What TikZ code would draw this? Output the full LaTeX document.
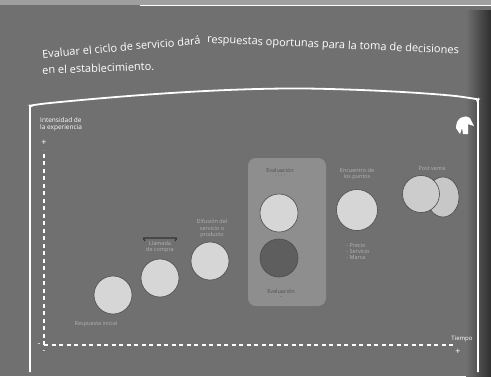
\documentclass[tikz,border=0pt]{standalone}
\usepackage{fontspec}
\setmainfont{Open Sans}
\usetikzlibrary{shapes.geometric}
\definecolor{bg}{HTML}{707070}
\definecolor{bgdark}{HTML}{2E2E2E}
\definecolor{light}{HTML}{D6D6D6}
\definecolor{darkc}{HTML}{5E5E5E}
\definecolor{boxc}{HTML}{8E8E8E}
\definecolor{lab}{HTML}{B4B4B4}
\definecolor{labdark}{HTML}{505050}
\tikzset{
  stage/.style={circle,draw=black!70,line width=0.6pt,fill=light,minimum size=38pt,inner sep=0pt},
  lbl/.style={font=\fontsize{5.5}{6.3}\selectfont,text=lab,align=center,inner sep=1pt},
  axisdash/.style={draw=white!90,line width=2pt,dash pattern=on 4pt off 3.5pt},
  frameline/.style={draw=white!85,line width=1.8pt,rounded corners=8pt},
  titletext/.style={anchor=west,text=white!92,font=\fontsize{11}{13}\selectfont,inner sep=0}
}
\begin{document}
\begin{tikzpicture}[x=1pt,y=-1pt]
\useasboundingbox (0,0) rectangle (491,376);
% background
\fill[bg] (0,0) rectangle (491,376);
\fill[gray!75] (0,0) rectangle (491,5);
\draw[white!80,line width=1pt] (140,5) -- (491,5);
\shade[left color=bg,right color=bgdark] (466,10) rectangle (491,376);
% title
\node[titletext,rotate=5] (t1) at (42,54) {Evaluar el ciclo de servicio dará};
\node[titletext,rotate=-2.5] (t1b) at (207,40) {respuestas oportunas para la toma de decisiones};
\node[titletext,rotate=2] (t2) at (42,70) {en el establecimiento.};
% frame
\draw[frameline] (30,372) -- (30,114) .. controls (30,107) and (34,105) .. (40,104)
  .. controls (150,93) and (250,87) .. (330,89) .. controls (400,91) and (450,95) .. (470,98)
  .. controls (476,99) and (478,103) .. (478,109) -- (478,372);
% icon
\fill[white!90] (456,128) .. controls (456,118) and (464,114) .. (470,118)
  -- (474,126) -- (468,124) -- (468,134) -- (463,134) -- (462,128) -- (460,134) -- cycle;
% axes
\node[anchor=north west,text=white!80,align=left,font=\fontsize{6.5}{7.5}\selectfont,inner sep=0] (ylab) at (40,117)
  {Intensidad de\\la experiencia};
\node[text=white!85,font=\small,inner sep=0] (yplus) at (44,143) {+};
\node[text=white!85,font=\small,inner sep=0] (yminus) at (39,345) {-};
\coordinate (o) at (44,345);
\coordinate (ytop) at (44,150);
\coordinate (xend) at (455,345);
\draw[axisdash] (o) -- (ytop);
\draw[axisdash] (o) -- (xend);
\node[text=white!75,font=\fontsize{6}{7}\selectfont,inner sep=0] (xlab) at (462,339) {Tiempo};
\node[text=white!85,font=\small,inner sep=0] (xplus) at (458,352) {+};
\node[text=white!70,font=\small,inner sep=0] (xminus) at (44,352) {-};
% stages
\node[stage] (s1) at (113,295) {};
\node[lbl,anchor=north] (l1) at (96,320) {Respuesta inicial};
\node[stage] (s2) at (160,278) {};
\draw[black!80,line width=1.2pt,rounded corners=1pt] (145,241) -- (143,238) -- (177,238) -- (175,241);
\node[lbl,anchor=north] (l2) at (160,240) {Llamada\\de compra};
\node[stage] (s3) at (210,261) {};
\node[lbl,anchor=south] (l3) at (212,239) {Difusión del\\servicio o\\producto};
% evaluation box
\node[draw=none,fill=boxc,rounded corners=8pt,minimum width=78pt,minimum height=148pt,inner sep=0] (box) at (287,232) {};
\node[stage] (s4) at (279,213) {};
\node[stage,fill=darkc] (s5) at (279,258) {};
\node[lbl,text=labdark] (l4) at (280,173) {Evaluación\\[-1pt]· · · ·};
\node[lbl,text=labdark] (l5) at (281,294) {Evaluación\\[-1pt]-};
\node[stage,minimum size=41pt] (s6) at (357,210) {};
\node[lbl,anchor=south] (l6) at (357,181) {Encuentro de\\los puntos};
\node[lbl,anchor=north,align=left] (l7) at (358,242) {- Precio\\- Servicio\\- Marca};
\node[ellipse,draw=black!70,line width=0.6pt,fill=light!85!bg,minimum width=32pt,minimum height=40pt,inner sep=0] (s8) at (443,197) {};
\node[stage,minimum size=37pt,fill=light!90!bg] (s7) at (421,194) {};
\node[lbl,anchor=south] (l8) at (432,172) {Post venta};
\end{tikzpicture}
\end{document}
